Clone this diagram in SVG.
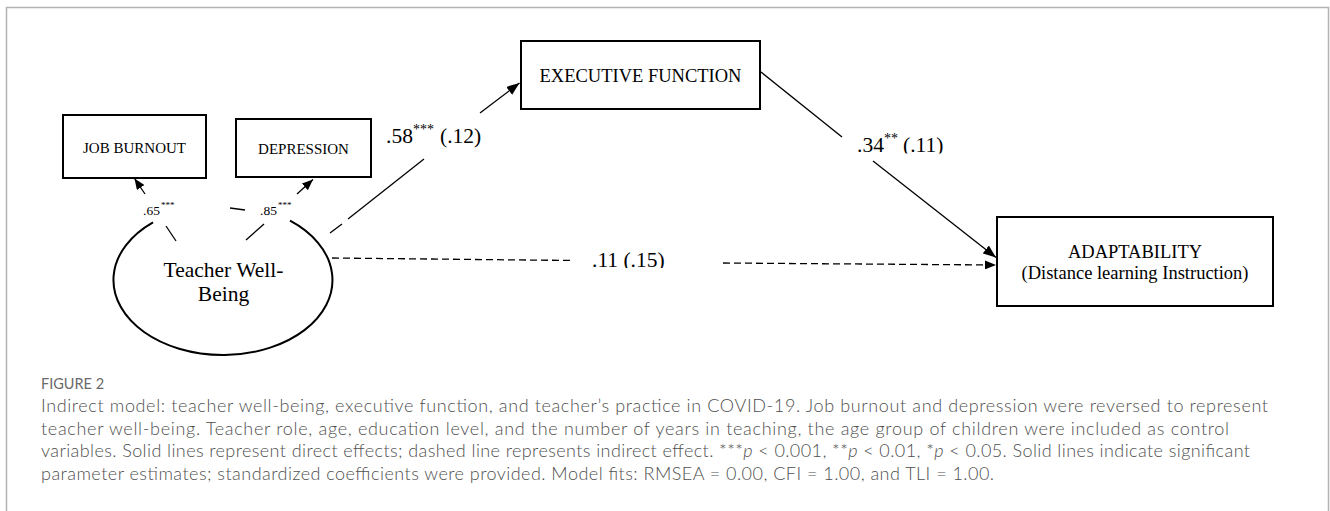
<svg xmlns="http://www.w3.org/2000/svg" width="1330" height="511" viewBox="0 0 1330 511">
<style>
.box{fill:#fff;stroke:#000;stroke-width:2}
.ell{fill:none;stroke:#000;stroke-width:2}
.ln{fill:none;stroke:#000;stroke-width:1.3}
.dash{fill:none;stroke:#000;stroke-width:1.3;stroke-dasharray:7,4}
.t{font-family:"Liberation Serif","Times New Roman",serif;fill:#000}
.cap{font-family:Lato,"Open Sans",sans-serif;font-weight:300;fill:#4f4f4f;font-size:18px}
</style>
<defs>
<marker id="arr" markerUnits="userSpaceOnUse" markerWidth="13" markerHeight="10" refX="13" refY="5" orient="auto">
<path d="M0,0 L13,5 L0,10 z" fill="#000"/>
</marker>
<marker id="arrs" markerUnits="userSpaceOnUse" markerWidth="11" markerHeight="9" refX="11" refY="4.5" orient="auto">
<path d="M0,0 L11,4.5 L0,9 z" fill="#000"/>
</marker>
<clipPath id="clip34"><rect x="840" y="100" width="130" height="53.5"/></clipPath>
<clipPath id="clip11"><rect x="580" y="230" width="100" height="38"/></clipPath>
</defs>
<rect x="6.5" y="7.5" width="1322" height="520" fill="none" stroke="#b3b3b3" stroke-width="1.5"/>

<g id="node-job-burnout">
<rect class="box" x="63" y="115" width="143" height="63"/>
<text class="t" x="134.5" y="153" font-size="15" text-anchor="middle">JOB BURNOUT</text>
</g>
<g id="node-depression">
<rect class="box" x="236" y="119" width="135" height="58"/>
<text class="t" x="303.5" y="154" font-size="15" text-anchor="middle">DEPRESSION</text>
</g>
<g id="node-executive-function">
<rect class="box" x="521" y="41" width="239" height="68"/>
<text class="t" x="640.5" y="82" font-size="18.5" text-anchor="middle">EXECUTIVE FUNCTION</text>
</g>
<g id="node-adaptability">
<rect class="box" x="997" y="217" width="276" height="89"/>
<text class="t" x="1135" y="258" font-size="18.5" text-anchor="middle">ADAPTABILITY</text>
<text class="t" x="1135" y="279" font-size="18.5" text-anchor="middle">(Distance learning Instruction)</text>
</g>
<g id="node-teacher-wellbeing">
<path class="ell" d="M153,222.3 A109.5,75 0 1,0 290,220.7"/>
<text class="t" x="223.5" y="277" font-size="21.5" text-anchor="middle">Teacher Well-</text>
<text class="t" x="223.5" y="301" font-size="21.5" text-anchor="middle">Being</text>
</g>

<g id="connectors">
<line class="ln" x1="176" y1="241" x2="166" y2="226"/>
<line class="ln" x1="145" y1="194" x2="134.5" y2="178.5" marker-end="url(#arrs)"/>
<line class="ln" x1="246" y1="240" x2="264" y2="224"/>
<line class="ln" x1="297" y1="194" x2="313" y2="179.5" marker-end="url(#arrs)"/>
<line class="ln" x1="230" y1="208" x2="245" y2="210" stroke-width="2.4"/>
<line class="ln" x1="330" y1="233" x2="342" y2="224"/>
<line class="ln" x1="348" y1="219" x2="424" y2="159"/>
<line class="ln" x1="480" y1="113" x2="519.5" y2="83" marker-end="url(#arr)"/>
<line class="ln" x1="761" y1="72" x2="842" y2="137"/>
<line class="ln" x1="873" y1="161" x2="996" y2="257.5" marker-end="url(#arr)"/>
<line class="dash" x1="332" y1="258" x2="574" y2="260.5"/>
<line class="dash" x1="723" y1="263" x2="996" y2="265" marker-end="url(#arrs)"/>
</g>

<g id="labels">
<text class="t" font-size="13.5" y="215"><tspan x="143">.65</tspan><tspan x="161" y="208" font-size="9">***</tspan></text>
<text class="t" font-size="13.5" y="215"><tspan x="260">.85</tspan><tspan x="278" y="208" font-size="9">***</tspan></text>
<text class="t" font-size="21.5" y="143"><tspan x="386">.58</tspan><tspan x="413" y="134" font-size="14">***</tspan><tspan x="440" y="143">(.12)</tspan></text>
<g clip-path="url(#clip34)">
<text class="t" font-size="21.5" y="152"><tspan x="857">.34</tspan><tspan x="884" y="143" font-size="14">**</tspan><tspan x="903" y="152">(.11)</tspan></text>
</g>
<g clip-path="url(#clip11)">
<text class="t" font-size="21.5" x="592" y="267">.11 (.15)</text>
</g>
</g>

<g id="caption">
<text x="41" y="389" font-family="Lato,'Open Sans',sans-serif" font-size="14.5" fill="#6a6a6a">FIGURE 2</text>
<text class="cap" x="41" y="412" textLength="1227" lengthAdjust="spacing">Indirect model: teacher well-being, executive function, and teacher’s practice in COVID-19. Job burnout and depression were reversed to represent</text>
<text class="cap" x="41" y="434.5" textLength="1188" lengthAdjust="spacing">teacher well-being. Teacher role, age, education level, and the number of years in teaching, the age group of children were included as control</text>
<text class="cap" x="41" y="457" textLength="1209" lengthAdjust="spacing">variables. Solid lines represent direct effects; dashed line represents indirect effect. ***<tspan font-style="italic">p</tspan> &lt; 0.001, **<tspan font-style="italic">p</tspan> &lt; 0.01, *<tspan font-style="italic">p</tspan> &lt; 0.05. Solid lines indicate significant</text>
<text class="cap" x="41" y="479.5" textLength="953" lengthAdjust="spacing">parameter estimates; standardized coefficients were provided. Model fits: RMSEA = 0.00, CFI = 1.00, and TLI = 1.00.</text>
</g>
</svg>
